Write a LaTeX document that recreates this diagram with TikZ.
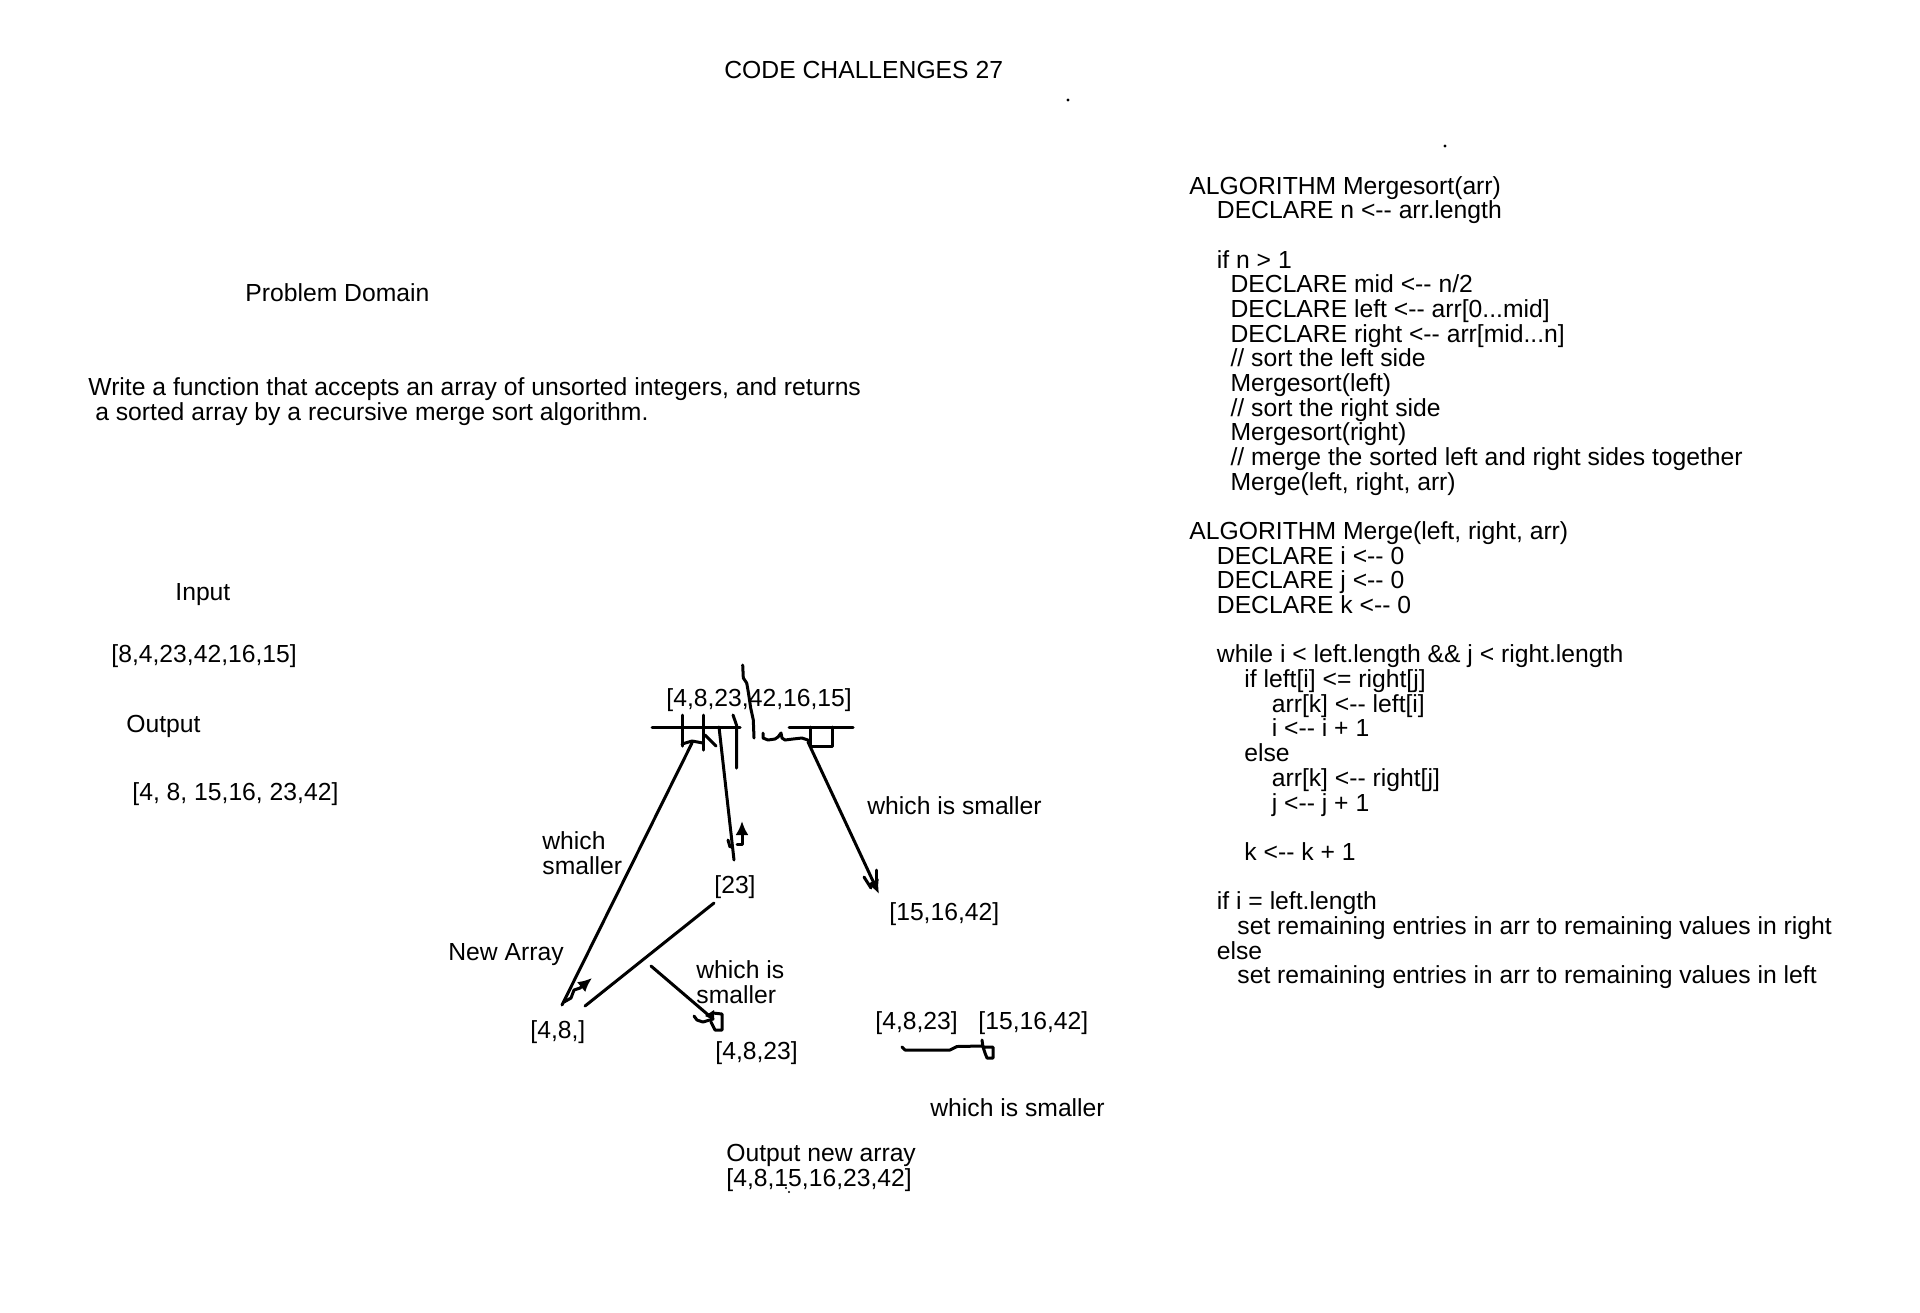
\documentclass[tikz,border=0pt]{standalone}
\usepackage{fontspec}
\setmainfont{Liberation Sans}[Ligatures=TeXOff]
\usetikzlibrary{arrows.meta}
\tikzset{
    txt/.style={anchor=base west, inner sep=0pt, align=left, font=\fontsize{12.35}{12.25}\selectfont},
    pen/.style={line width=1.5pt, line cap=round, line join=round},
    penarrow/.style={pen, -{Latex[length=7pt,width=6.5pt]}}
}

\begin{document}
\begin{tikzpicture}[x=0.5pt,y=-0.5pt]
        \fill[white] (0,0) rectangle (1920,1312);
        \useasboundingbox (0,0) rectangle (1920,1312);
        % Title and stray dots
        \node[txt] (title) at (724,78) {CODE CHALLENGES 27};
        \fill (1068,100) circle (1.6);
        \fill (1445,146) circle (1.6);
        % Problem domain (multi-line nodes sit on their last line)
        \node[txt] (domain) at (245,301) {Problem Domain};
        \node[txt] (task) at (88,420) {Write a function that accepts an array of unsorted integers, and returns\\\hspace*{.278em}a sorted array by a recursive merge sort algorithm.};
        \node[txt] (input) at (175,600) {Input};
        \node[txt] (inarr) at (111,662) {[8,4,23,42,16,15]};
        \node[txt] (output) at (126,732) {Output};
        \node[txt] (outarr) at (132,800) {[4, 8, 15,16, 23,42]};

        % Pseudocode
        \foreach \l/\dx/\t in {
            0/0/{ALGORITHM Mergesort(arr)},
            1/27.5/{DECLARE n <-- arr.length},
            3/27.5/{if n > 1},
            4/41.2/{DECLARE mid <-- n/2},
            5/41.2/{DECLARE left <-- arr[0...mid]},
            6/41.2/{DECLARE right <-- arr[mid...n]},
            7/41.2/{// sort the left side},
            8/41.2/{Mergesort(left)},
            9/41.2/{// sort the right side},
            10/41.2/{Mergesort(right)},
            11/41.2/{// merge the sorted left and right sides together},
            12/41.2/{Merge(left, right, arr)},
            14/0/{ALGORITHM Merge(left, right, arr)},
            15/27.5/{DECLARE i <-- 0},
            16/27.5/{DECLARE j <-- 0},
            17/27.5/{DECLARE k <-- 0},
            19/27.5/{while i < left.length \&\& j < right.length},
            20/55/{if left[i] <= right[j]},
            21/82.4/{arr[k] <-- left[i]},
            22/82.4/{i <-- i + 1},
            23/55/{else},
            24/82.4/{arr[k] <-- right[j]},
            25/82.4/{j <-- j + 1},
            27/55/{k <-- k + 1},
            29/27.5/{if i = left.length},
            30/48/{set remaining entries in arr to remaining values in right},
            31/27.5/{else},
            32/48/{set remaining entries in arr to remaining values in left}}
            \node[txt] (code\l) at ({1189+\dx},{194+24.68*\l}) {\t};

        % Sketch of the merge
        \node[txt] (whole) at (666,706) {[4,8,23,42,16,15]};
        \node[txt] (smallA) at (867,814) {which is smaller};
        \node[txt] (smallB) at (542,874) {which\\smaller};
        \node[txt] (mid) at (714,893) {[23]};
        \node[txt] (right) at (889,920) {[15,16,42]};
        \node[txt] (newarr) at (448,960) {New Array};
        \node[txt] (smallC) at (696,1003) {which is\\smaller};
        \node[txt] (pair) at (530,1038) {[4,8,]};
        \node[txt] (three) at (715,1059) {[4,8,23]};
        \node[txt] (leftpart) at (875,1029) {[4,8,23]};
        \node[txt] (rightpart) at (978,1029) {[15,16,42]};
        \node[txt] (smallD) at (930,1116) {which is smaller};
        \node[txt] (final) at (726,1186) {Output new array\\{}[4,8,15,16,23,42]};
        \fill (786,1188) circle (1.2);
        \fill (789,1192) circle (1.2);

        % Cuts under the array
        \draw[pen] (652,727) -- (740,727);
        \draw[pen] (682,715) -- (682,746);
        \draw[pen] (703,715) -- (703,750);
        \draw[pen] (682,744) -- (692,741) -- (703,743);
        \draw[pen] (705,735) -- (716,746);
        \draw[pen] (733,715) -- (736.5,725) -- (736.5,768);
        \draw[pen] (742.7,665) -- (743.3,678) -- (746.7,683) -- (748.3,692) -- (750.7,708) -- (753.3,720) -- (754,738);
        \draw[pen] (763,733) -- (763,738) -- (768,740) -- (775,739) -- (778,737) -- (781,733) -- (782,738) -- (785,740) -- (793,739) -- (802,738) -- (808,740);
        \draw[pen] (789,727) -- (853,727);
        \draw[pen] (810,727) -- (810,746) -- (832,746) -- (832,727);

        % Arrows
        \coordinate (cutA) at (692,743);
        \coordinate (endA) at (562,1005);
        \draw[pen] (cutA) -- (endA);
        \draw[penarrow] (564,1002) -- (571,998) -- (574,990) -- (580,988) -- (592,978);

        \coordinate (cutB) at (719,727);
        \coordinate (endB) at (734,860);
        \draw[pen] (cutB) -- (endB);
        \draw[pen] (728,840) -- (730,847);
        \draw[penarrow] (737,844) -- (742,844) -- (742,821);

        \coordinate (cutC) at (808,742);
        \coordinate (endC) at (879,894);
        \draw[penarrow] (cutC) -- (endC);
        \draw[pen] (876.7,870) -- (876.7,885);
        \draw[pen] (864,877) -- (871,888);

        \coordinate (fromMid) at (714,903);
        \coordinate (toPair) at (585,1006);
        \draw[pen] (fromMid) -- (toPair);

        \coordinate (cutD) at (651,966);
        \coordinate (endD) at (713,1019);
        \draw[pen] (cutD) -- (endD);
        \draw[pen] (694,1016) -- (697,1020) -- (703,1022) -- (713,1019);
        \fill (705,1016) -- (714,1010) -- (714,1020) -- cycle;
        \draw[pen] (713,1013) -- (722,1014) -- (722,1030) -- (715,1030) -- (711,1022);

        \coordinate (fromLeft) at (902,1047);
        \coordinate (toRight) at (982,1046);
        \draw[pen] (fromLeft) -- (905,1050) -- (950,1050) -- (957,1046.5) -- (toRight);
        \draw[pen] (982,1040) -- (983,1047) -- (985,1053) -- (987,1058) -- (993,1058) -- (993,1047) -- (983,1047);
    \end{tikzpicture}
\end{document}
